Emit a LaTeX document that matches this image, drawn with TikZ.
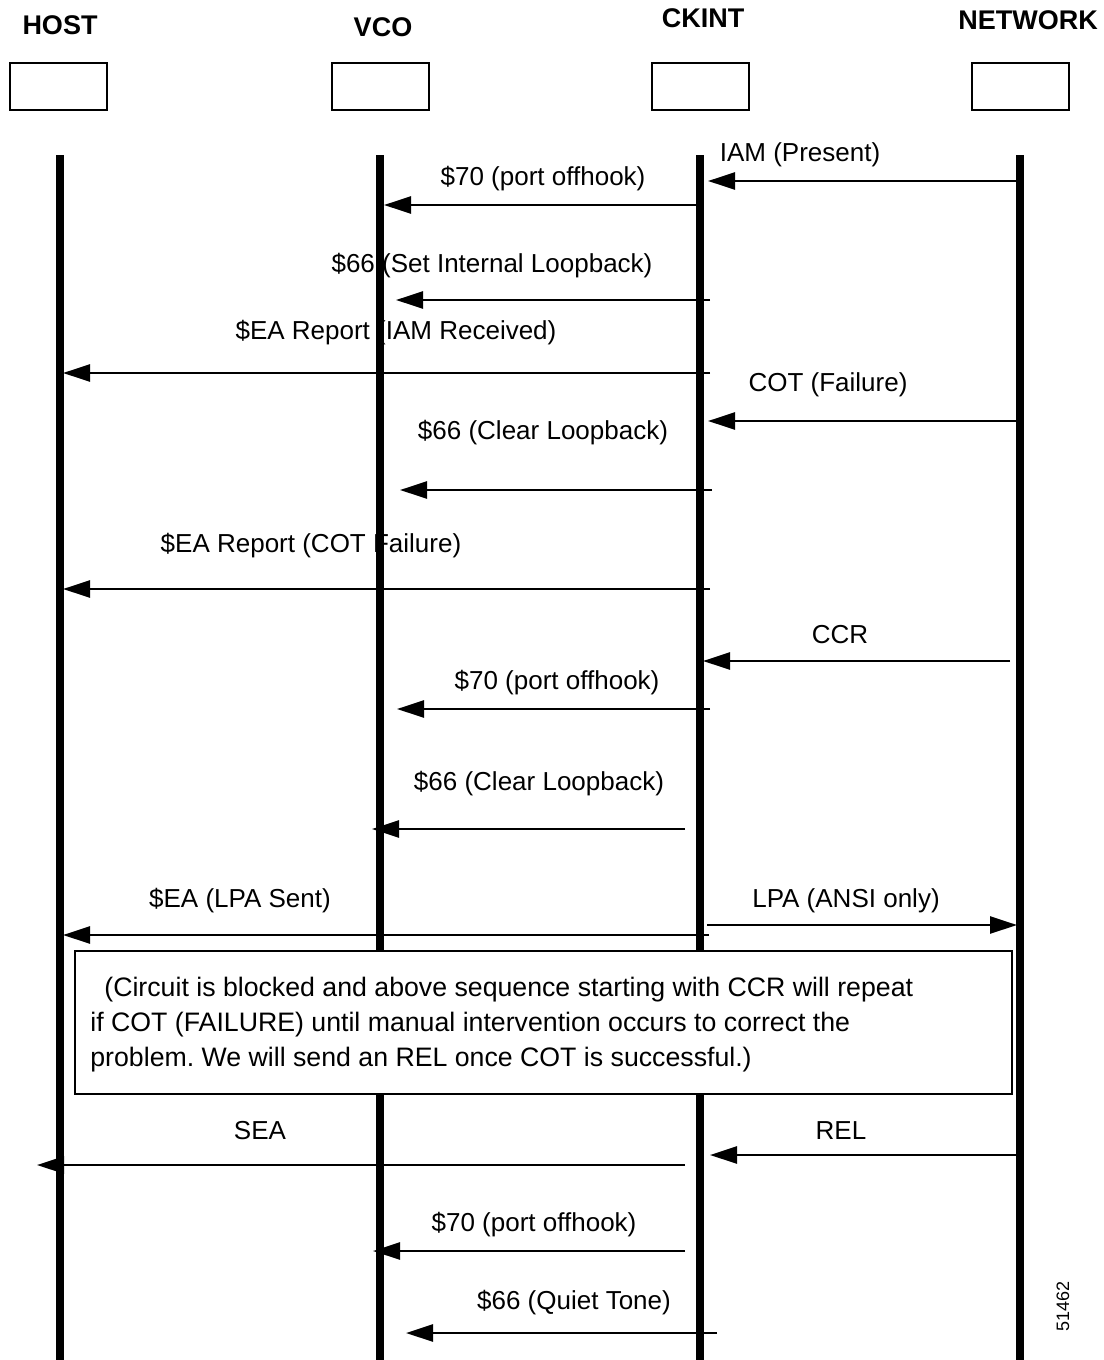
\documentclass[tikz,border=0pt]{standalone}
\usepackage{fontspec}
\setmainfont{Liberation Sans}
\usetikzlibrary{arrows.meta}
\tikzset{
  lifeline/.style={line width=4pt},
  msg/.style={line width=1.3pt, -{Triangle[length=13.5pt,width=8.5pt]}},
  actor/.style={draw, line width=1pt, minimum width=48.5pt, minimum height=23.5pt},
  lbl/.style={font=\fontsize{13}{15}\selectfont, inner sep=0pt, yshift=-1.5pt},
  notetext/.style={font=\fontsize{13.35}{15}\selectfont, inner sep=0pt, anchor=base west},
  head/.style={font=\bfseries\fontsize{13.5}{16}\selectfont, inner sep=0pt}
}
\frenchspacing
\begin{document}
\begin{tikzpicture}[x=0.5pt,y=-0.5pt]
\useasboundingbox (0,0) rectangle (1103,1360);
% participants
\node at (60,25) [head] (hostname) {HOST};
\node at (383,27) [head] (vconame) {VCO};
\node at (703,18) [head] (ckintname) {CKINT};
\node at (1028,20) [head] (netname) {NETWORK};
\node at (58,86) [actor] (host) {};
\node at (380,86) [actor] (vco) {};
\node at (700,86) [actor] (ckint) {};
\node at (1020,86) [actor] (net) {};
% lifelines
\draw[lifeline] (60,155) -- (60,1360);
\draw[lifeline] (380,155) -- (380,1360);
\draw[lifeline] (700,155) -- (700,1360);
\draw[lifeline] (1020,155) -- (1020,1360);
% messages
\node at (800,152) [lbl] (m1) {IAM (Present)};
\draw[msg] (1020,181) -- (708,181);
\node at (543,176) [lbl] (m2) {\$70 (port offhook)};
\draw[msg] (697,205) -- (384,205);
\node at (492,263) [lbl] (m3) {\$66 (Set Internal Loopback)};
\draw[msg] (710,300) -- (396,300);
\node at (396,330) [lbl] (m4) {\$EA Report (IAM Received)};
\draw[msg] (710,373) -- (63,373);
\node at (828,382) [lbl] (m5) {COT (Failure)};
\draw[msg] (1020,421) -- (708,421);
\node at (543,430) [lbl] (m6) {\$66 (Clear Loopback)};
\draw[msg] (712,490) -- (400,490);
\node at (311,543) [lbl] (m7) {\$EA Report (COT Failure)};
\draw[msg] (710,589) -- (63,589);
\node at (840,632) [lbl] (m8) {CCR};
\draw[msg] (1010,661) -- (703,661);
\node at (557,680) [lbl] (m9) {\$70 (port offhook)};
\draw[msg] (710,709) -- (397,709);
\node at (539,781) [lbl] (m10) {\$66 (Clear Loopback)};
\draw[msg] (685,829) -- (372,829);
\node at (240,898) [lbl] (m11) {\$EA (LPA Sent)};
\draw[msg] (709,935) -- (63,935);
\node at (846,898) [lbl] (m12) {LPA (ANSI only)};
\draw[msg] (707,925) -- (1017,925);
% note
\draw[line width=1pt, fill=white] (75,951) rectangle (1012,1094);
\node at (104,996) [notetext] (note1) {(Circuit is blocked and above sequence starting with CCR will repeat};
\node at (90,1031) [notetext] (note2) {if COT (FAILURE) until manual intervention occurs to correct the};
\node at (90,1066) [notetext] (note3) {problem. We will send an REL once COT is successful.)};
\node at (260,1128) [lbl] (m13) {SEA};
\draw[msg] (685,1165) -- (37,1165);
\node at (841,1128) [lbl] (m14) {REL};
\draw[msg] (1020,1155) -- (710,1155);
\node at (534,1222) [lbl] (m15) {\$70 (port offhook)};
\draw[msg] (685,1251) -- (373,1251);
\node at (574,1300) [lbl] (m16) {\$66 (Quiet Tone)};
\draw[msg] (717,1333) -- (406,1333);
\node at (1063,1306) [rotate=90, font=\fontsize{9}{10}\selectfont, inner sep=0pt] (fignum) {51462};
\end{tikzpicture}
\end{document}
